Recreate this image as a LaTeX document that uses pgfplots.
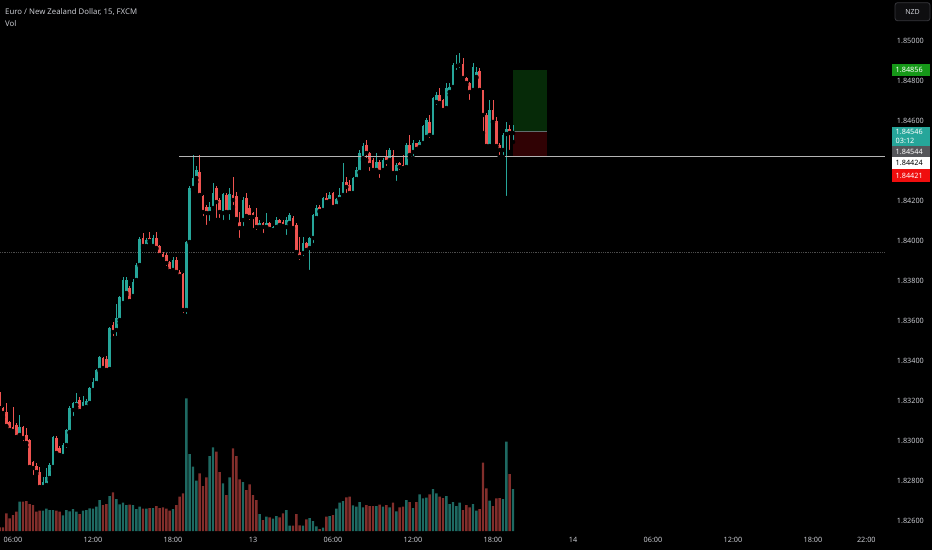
\documentclass[border=0pt]{standalone}
\usepackage{pgfplots}
\pgfplotsset{compat=1.18}
\usepackage{pgfplotstable}
\usepackage{fontspec}
\setmainfont{Noto Sans}

\definecolor{up}{RGB}{38,166,154}
\definecolor{dn}{RGB}{239,83,80}
\definecolor{vup}{RGB}{30,105,98}
\definecolor{vdn}{RGB}{130,46,43}
\definecolor{lbl}{RGB}{200,202,208}
\definecolor{tgtfill}{RGB}{6,42,8}
\definecolor{stopfill}{RGB}{48,2,4}
\definecolor{tgtlbl}{RGB}{22,152,24}
\definecolor{curlbl}{RGB}{38,166,154}
\definecolor{graylbl}{RGB}{85,86,90}
\definecolor{redlbl}{RGB}{240,14,14}
\definecolor{hline}{RGB}{180,180,180}

\pgfplotstableread{
k o h l c v
0 1.83245 1.83255 1.83155 1.83175 11
1 1.83165 1.83170 1.83120 1.83140 11
2 1.83145 1.83190 1.83070 1.83075 53
3 1.83095 1.83100 1.83045 1.83055 38
4 1.83070 1.83170 1.83040 1.83050 48
5 1.83080 1.83090 1.83005 1.83020 58
6 1.83030 1.83130 1.83020 1.83070 88
7 1.83070 1.83075 1.82990 1.83015 88
8 1.83030 1.83065 1.82970 1.82990 90
9 1.83005 1.83010 1.82865 1.82870 81
10 1.82895 1.82900 1.82820 1.82865 78
11 1.82875 1.82890 1.82835 1.82845 58
12 1.82845 1.82870 1.82765 1.82770 61
13 1.82770 1.82820 1.82760 1.82795 61
14 1.82780 1.82865 1.82765 1.82820 67
15 1.82815 1.82890 1.82805 1.82880 63
16 1.82870 1.83025 1.82855 1.83020 63
17 1.83015 1.83025 1.82935 1.82940 61
18 1.82965 1.82975 1.82920 1.82930 58
19 1.82925 1.82990 1.82915 1.82980 47
20 1.82980 1.83060 1.82955 1.83055 63
21 1.83045 1.83175 1.83040 1.83165 59
22 1.83155 1.83195 1.83115 1.83190 66
23 1.83180 1.83240 1.83165 1.83195 58
24 1.83205 1.83220 1.83145 1.83150 51
25 1.83165 1.83225 1.83155 1.83195 61
26 1.83170 1.83210 1.83165 1.83200 63
27 1.83190 1.83270 1.83185 1.83265 68
28 1.83255 1.83315 1.83245 1.83295 67
29 1.83290 1.83360 1.83280 1.83355 73
30 1.83355 1.83425 1.83350 1.83420 93
31 1.83415 1.83420 1.83360 1.83365 78
32 1.83410 1.83425 1.83350 1.83355 81
33 1.83360 1.83570 1.83355 1.83565 105
34 1.83580 1.83595 1.83515 1.83545 116
35 1.83555 1.83685 1.83515 1.83615 96
36 1.83605 1.83725 1.83590 1.83720 80
37 1.83690 1.83820 1.83680 1.83805 85
38 1.83740 1.83820 1.83730 1.83805 78
39 1.83765 1.83775 1.83695 1.83700 79
40 1.83725 1.83810 1.83720 1.83795 78
41 1.83805 1.83890 1.83790 1.83880 66
42 1.83880 1.84020 1.83875 1.84010 73
43 1.84015 1.84040 1.83965 1.83975 67
44 1.83975 1.84015 1.83970 1.84005 67
45 1.84015 1.84045 1.83995 1.84000 69
46 1.83975 1.84030 1.83965 1.84015 69
47 1.84015 1.84045 1.83960 1.83965 75
48 1.83975 1.83980 1.83920 1.83930 69
49 1.83935 1.83945 1.83895 1.83910 71
50 1.83930 1.83940 1.83865 1.83890 67
51 1.83895 1.83900 1.83845 1.83850 61
52 1.83855 1.83920 1.83845 1.83905 66
53 1.83905 1.83920 1.83840 1.83845 78
54 1.83845 1.83855 1.83815 1.83825 103
55 1.83835 1.83840 1.83630 1.83655 113
56 1.83655 1.84000 1.83625 1.83995 398
57 1.83995 1.84275 1.83990 1.84265 231
58 1.84265 1.84430 1.84255 1.84315 193
59 1.84315 1.84375 1.84295 1.84355 151
60 1.84345 1.84430 1.84225 1.84230 173
61 1.84225 1.84230 1.84115 1.84145 135
62 1.84170 1.84180 1.84070 1.84140 161
63 1.84140 1.84195 1.84090 1.84170 225
64 1.84165 1.84290 1.84145 1.84240 251
65 1.84265 1.84275 1.84105 1.84195 238
66 1.84205 1.84215 1.84105 1.84145 177
67 1.84140 1.84240 1.84095 1.84235 143
68 1.84230 1.84240 1.84140 1.84145 108
69 1.84145 1.84265 1.84095 1.84235 161
70 1.84230 1.84320 1.84170 1.84205 248
71 1.84225 1.84245 1.84095 1.84110 225
72 1.84095 1.84145 1.84005 1.84065 155
73 1.84105 1.84220 1.84065 1.84205 147
74 1.84215 1.84240 1.84105 1.84125 123
75 1.84165 1.84180 1.84095 1.84120 140
76 1.84140 1.84145 1.84055 1.84120 108
77 1.84120 1.84165 1.84045 1.84070 93
78 1.84070 1.84105 1.84055 1.84090 51
79 1.84090 1.84095 1.84030 1.84070 33
80 1.84070 1.84140 1.84055 1.84090 43
81 1.84090 1.84095 1.84050 1.84060 41
82 1.84055 1.84075 1.84040 1.84070 37
83 1.84070 1.84120 1.84055 1.84105 45
84 1.84105 1.84110 1.84070 1.84080 41
85 1.84095 1.84105 1.84070 1.84075 53
86 1.84070 1.84120 1.84020 1.84105 63
87 1.84090 1.84140 1.84085 1.84130 16
88 1.84115 1.84125 1.84060 1.84065 16
89 1.84080 1.84090 1.83940 1.83945 51
90 1.83945 1.84020 1.83895 1.83920 17
91 1.83940 1.84020 1.83915 1.83990 16
92 1.83990 1.83995 1.83945 1.83955 35
93 1.83965 1.84020 1.83845 1.84015 39
94 1.84015 1.84135 1.83980 1.84130 30
95 1.84115 1.84180 1.84095 1.84165 14
96 1.84170 1.84180 1.84145 1.84150 6
97 1.84155 1.84220 1.84140 1.84215 10
98 1.84215 1.84240 1.84190 1.84195 43
99 1.84200 1.84245 1.84195 1.84230 45
100 1.84240 1.84245 1.84155 1.84170 48
101 1.84175 1.84215 1.84165 1.84210 67
102 1.84210 1.84265 1.84205 1.84230 85
103 1.84230 1.84390 1.84220 1.84295 90
104 1.84295 1.84320 1.84230 1.84270 101
105 1.84280 1.84305 1.84230 1.84240 103
106 1.84240 1.84320 1.84230 1.84315 77
107 1.84310 1.84370 1.84300 1.84355 73
108 1.84345 1.84455 1.84340 1.84440 87
109 1.84415 1.84490 1.84405 1.84475 71
110 1.84480 1.84505 1.84405 1.84440 78
111 1.84440 1.84445 1.84340 1.84380 75
112 1.84405 1.84415 1.84345 1.84355 75
113 1.84355 1.84440 1.84350 1.84395 75
114 1.84395 1.84405 1.84305 1.84345 79
115 1.84355 1.84415 1.84340 1.84405 73
116 1.84420 1.84455 1.84365 1.84395 78
117 1.84405 1.84465 1.84395 1.84455 71
118 1.84430 1.84455 1.84335 1.84340 85
119 1.84340 1.84390 1.84290 1.84380 59
120 1.84390 1.84395 1.84345 1.84370 71
121 1.84380 1.84430 1.84355 1.84365 73
122 1.84370 1.84490 1.84365 1.84480 93
123 1.84480 1.84530 1.84415 1.84430 87
124 1.84445 1.84505 1.84415 1.84490 69
125 1.84490 1.84490 1.84455 1.84460 87
126 1.84470 1.84505 1.84455 1.84495 110
127 1.84490 1.84580 1.84480 1.84575 98
128 1.84520 1.84615 1.84515 1.84605 100
129 1.84595 1.84630 1.84505 1.84530 110
130 1.84520 1.84720 1.84520 1.84715 126
131 1.84695 1.84745 1.84670 1.84730 113
132 1.84730 1.84765 1.84680 1.84690 103
133 1.84705 1.84710 1.84640 1.84655 99
134 1.84665 1.84790 1.84655 1.84765 105
135 1.84745 1.84790 1.84730 1.84770 81
136 1.84770 1.84890 1.84755 1.84880 87
137 1.84875 1.84930 1.84845 1.84885 75
138 1.84880 1.84940 1.84855 1.84890 85
139 1.84885 1.84915 1.84805 1.84815 63
140 1.84815 1.84820 1.84780 1.84790 78
141 1.84790 1.84795 1.84695 1.84745 71
142 1.84755 1.84890 1.84745 1.84870 81
143 1.84820 1.84870 1.84815 1.84845 61
144 1.84850 1.84865 1.84740 1.84755 66
145 1.84755 1.84755 1.84540 1.84630 205
146 1.84630 1.84640 1.84470 1.84475 128
147 1.84475 1.84705 1.84465 1.84655 91
148 1.84655 1.84705 1.84595 1.84595 75
149 1.84600 1.84620 1.84470 1.84475 98
150 1.84480 1.84490 1.84420 1.84455 99
151 1.84455 1.84540 1.84420 1.84530 96
152 1.84535 1.84595 1.84215 1.84560 268
153 1.84560 1.84580 1.84445 1.84540 171
154 1.84540 1.84580 1.84495 1.84546 126
}\candles

\begin{document}
\begin{tikzpicture}[x=1pt,y=1pt]
\useasboundingbox (0,0) rectangle (932,550);
\fill[black] (0,0) rectangle (932,550);

% volume pane
\begin{axis}[at={(0pt,19pt)}, anchor=south west, scale only axis,
  width=885pt, height=531pt, xmin=0.1, xmax=265.6, ymin=0, ymax=1593,
  hide axis]
\addplot[ybar, bar width=2.4pt, bar shift=0pt, fill=vup, draw=none,
  restrict expr to domain={\thisrow{c}-\thisrow{o}}{0:1}]
  table[x=k, y=v] {\candles};
\addplot[ybar, bar width=2.4pt, bar shift=0pt, fill=vdn, draw=none,
  restrict expr to domain={\thisrow{c}-\thisrow{o}}{-1:-0.000001}]
  table[x=k, y=v] {\candles};
\end{axis}

% price pane
\begin{axis}[at={(0pt,19pt)}, anchor=south west, scale only axis,
  width=885pt, height=531pt, xmin=0.1, xmax=265.6, ymin=1.8255, ymax=1.85205,
  axis line style={draw=none}, major tick length=0pt,
  ytick={1.826,1.828,1.830,1.832,1.834,1.836,1.838,1.840,1.842,1.846,1.848,1.850},
  yticklabels={1.82600,1.82800,1.83000,1.83200,1.83400,1.83600,1.83800,1.84000,1.84200,1.84600,1.84800,1.85000},
  yticklabel pos=right,
  yticklabel style={anchor=west, inner sep=0pt, xshift=11.7pt},
  xtick={4,28,52,76,100,124,148,172,196,220,244,260},
  xticklabels={06:00,12:00,18:00,13,06:00,12:00,18:00,14,06:00,12:00,18:00,22:00},
  xticklabel style={anchor=north, inner sep=0pt, yshift=-6pt},
  tick label style={font=\fontsize{7.3}{8}\selectfont, text=lbl}]

% previous close dotted line
\addplot[densely dotted, draw={rgb,255:red,75;green,75;blue,75}, line width=0.8pt]
  coordinates {(0.1,1.83942) (265.6,1.83942)};

% long position tool
\addplot[fill=tgtfill, draw=none] coordinates
  {(153.9,1.84546) (164.1,1.84546) (164.1,1.84856) (153.9,1.84856)} -- cycle;
\addplot[fill=stopfill, draw=none] coordinates
  {(153.9,1.84421) (164.1,1.84421) (164.1,1.84546) (153.9,1.84546)} -- cycle;
\addplot[draw={rgb,255:red,95;green,110;blue,110}, line width=0.8pt]
  coordinates {(153.9,1.84546) (164.1,1.84546)};

% wicks
\addplot[only marks, mark=none,
  restrict expr to domain={\thisrow{c}-\thisrow{o}}{0:1},
  error bars/.cd, y dir=plus, y explicit, error mark=none,
  error bar style={draw=up, line width=0.9pt}]
  table[x=k, y=l, y error expr={\thisrow{h}-\thisrow{l}}] {\candles};
\addplot[only marks, mark=none,
  restrict expr to domain={\thisrow{c}-\thisrow{o}}{-1:-0.000001},
  error bars/.cd, y dir=plus, y explicit, error mark=none,
  error bar style={draw=dn, line width=0.9pt}]
  table[x=k, y=l, y error expr={\thisrow{h}-\thisrow{l}}] {\candles};
% bodies
\addplot[only marks, mark=none,
  restrict expr to domain={\thisrow{c}-\thisrow{o}}{0:1},
  error bars/.cd, y dir=plus, y explicit, error mark=none,
  error bar style={draw=up, line width=2.4pt}]
  table[x=k, y=o, y error expr={max(\thisrow{c}-\thisrow{o},0.00003)}] {\candles};
\addplot[only marks, mark=none,
  restrict expr to domain={\thisrow{c}-\thisrow{o}}{-1:-0.000001},
  error bars/.cd, y dir=plus, y explicit, error mark=none,
  error bar style={draw=dn, line width=2.4pt}]
  table[x=k, y=c, y error expr={max(\thisrow{o}-\thisrow{c},0.00003)}] {\candles};

% horizontal level line
\addplot[draw=hline, line width=1.2pt] coordinates {(53.8,1.84424) (265.6,1.84424)};
\end{axis}

% header
\node[anchor=base west, inner sep=0pt, text=lbl, font=\fontsize{7.8}{9}\selectfont]
  at (5,535.5) {Euro / New Zealand Dollar, 15, FXCM};
\node[anchor=base west, inner sep=0pt, text=lbl, font=\fontsize{7.8}{9}\selectfont]
  at (5,523.5) {Vol};

% currency button
\draw[rounded corners=2.5pt, draw={rgb,255:red,55;green,55;blue,60}, fill={rgb,255:red,14;green,14;blue,16}, line width=0.8pt]
  (895,547.3) rectangle (930,529.3);
\node[text=lbl, inner sep=0pt, font=\fontsize{7}{8}\selectfont] at (912.5,538.3) {NZD};

% price scale labels
\fill[tgtlbl] (892,485.7) rectangle (930,474);
\node[anchor=west, inner sep=0pt, text=white, font=\fontsize{7.3}{8}\selectfont] at (895.5,479.9) {1.84856};
\fill[curlbl] (892,423.3) rectangle (930,404.3);
\node[anchor=west, inner sep=0pt, text=white, font=\fontsize{7.3}{8}\selectfont] at (895.5,418) {1.84546};
\node[anchor=west, inner sep=0pt, text=white, font=\fontsize{7.3}{8}\selectfont] at (895.5,409.2) {03:12};
\fill[graylbl] (892,404.3) rectangle (930,392.7);
\node[anchor=west, inner sep=0pt, text=white, font=\fontsize{7.3}{8}\selectfont] at (895.5,398.5) {1.84544};
\fill[white] (892,392.7) rectangle (930,380.7);
\node[anchor=west, inner sep=0pt, text=black, font=\fontsize{7.3}{8}\selectfont] at (895.5,386.7) {1.84424};
\fill[redlbl] (892,380.7) rectangle (930,368.3);
\node[anchor=west, inner sep=0pt, text=white, font=\fontsize{7.3}{8}\selectfont] at (895.5,374.5) {1.84421};
\end{tikzpicture}
\end{document}
